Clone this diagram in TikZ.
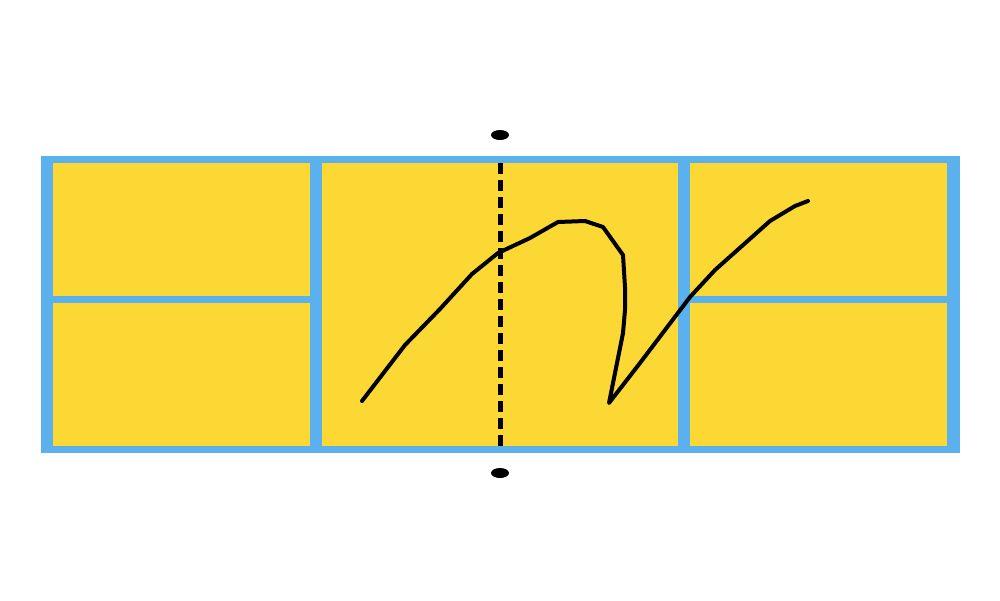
\documentclass[tikz,border=0pt]{standalone}
\definecolor{frameblue}{HTML}{5AB1EE}
\definecolor{cellyellow}{HTML}{FBD833}
\tikzset{
  cell/.style={fill=cellyellow, draw=none},
  pole/.style={ellipse, fill=black, inner sep=0pt, minimum width=18pt, minimum height=10pt},
  axis/.style={line width=5pt, dash pattern=on 11pt off 6pt},
  stroke/.style={line width=4pt, line join=round, line cap=round}
}
\usetikzlibrary{shapes.geometric}
\begin{document}
\begin{tikzpicture}[x=1pt,y=-1pt]
\useasboundingbox (0,0) rectangle (1000,600);
% frame
\fill[frameblue] (41,156) rectangle (960,453);
% cells
\fill[cell] (53,163) rectangle (310,296);
\fill[cell] (53,303) rectangle (310,446);
\fill[cell] (322,163) rectangle (678,446);
\fill[cell] (690,163) rectangle (947,296);
\fill[cell] (690,303) rectangle (947,446);
% poles and axis
\node[pole] (ptop) at (500,135) {};
\node[pole] (pbot) at (500,473) {};
\coordinate (atop) at (500,163);
\coordinate (abot) at (500,446);
\draw[axis] (atop) -- (abot);
% curve
\draw[stroke] (362,401) -- (405,345) -- (440,309) -- (472,274) -- (498,253) -- (530,238) -- (558,222) -- (585,221) -- (603,227) -- (623,255) -- (625,287) -- (625,310) -- (623,333) -- (609,403) -- (640,363) -- (690,297) -- (715,270) -- (770,221) -- (795,206) -- (808,201);
\end{tikzpicture}
\end{document}
